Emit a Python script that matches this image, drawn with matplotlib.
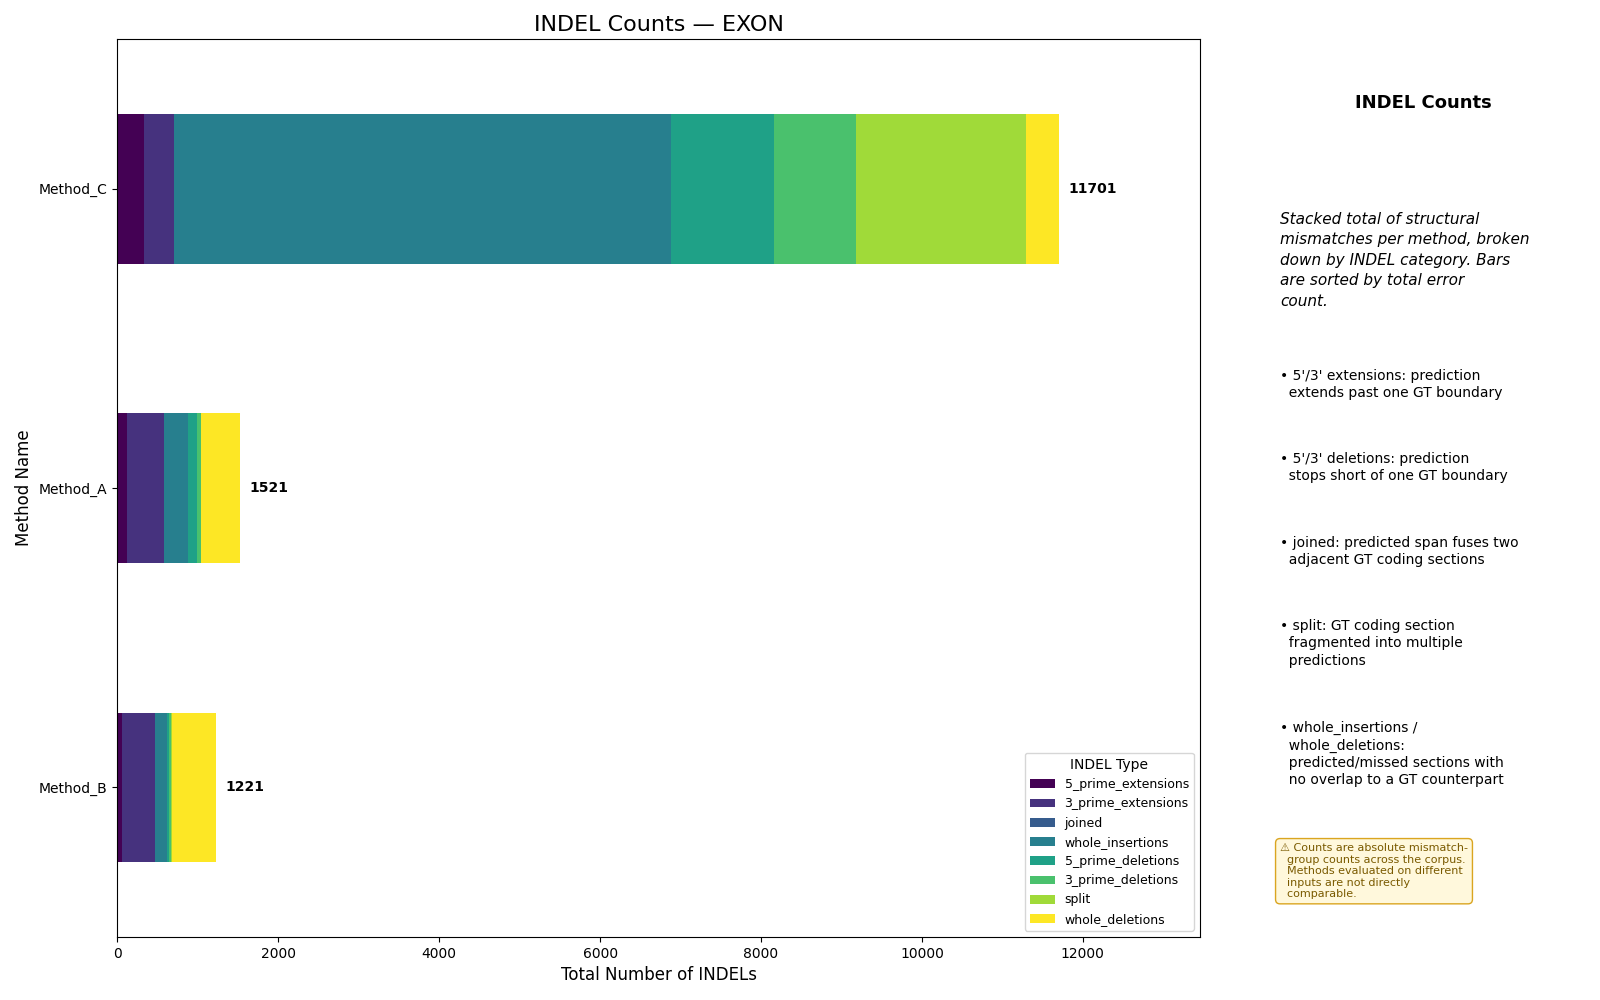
import numpy as np
import matplotlib
matplotlib.use('agg')
import matplotlib.pyplot as plt

# methods bottom -> top (sorted by total)
methods = ['Method_B', 'Method_A', 'Method_C']
categories = ['5_prime_extensions', '3_prime_extensions', 'joined', 'whole_insertions',
              '5_prime_deletions', '3_prime_deletions', 'split', 'whole_deletions']
five_prime_ext = [58, 116, 325]
three_prime_ext = [408, 468, 373]
joined = [0, 0, 0]
whole_ins = [146, 295, 6183]
five_prime_del = [32, 111, 1277]
three_prime_del = [21, 50, 1023]
split = [12, 0, 2108]
whole_del = [544, 481, 412]

series = [five_prime_ext, three_prime_ext, joined, whole_ins,
          five_prime_del, three_prime_del, split, whole_del]
colors = plt.cm.viridis(np.linspace(0, 1, len(categories)))

fig = plt.figure(figsize=(16, 10), dpi=100)
ax = fig.add_axes([0.0734, 0.063, 0.6766, 0.898])

y = np.arange(len(methods))
left = np.zeros(len(methods))
for cat, vals, c in zip(categories, series, colors):
    ax.barh(y, vals, left=left, height=0.5, color=c, label=cat)
    left += np.array(vals)

totals = left
xmax = totals.max() * 1.15
for yi, t in zip(y, totals):
    ax.text(t + totals.max() * 0.01, yi, f'{int(t)}', va='center', ha='left',
            fontsize=10, fontweight='bold')

ax.set_xlim(0, xmax)
ax.set_ylim(-0.5, len(methods) - 0.5)
ax.set_yticks(y)
ax.set_yticklabels(methods)
ax.set_xlabel('Total Number of INDELs', fontsize=12)
ax.set_ylabel('Method Name', fontsize=12)
ax.set_title('INDEL Counts \u2014 EXON', fontsize=16)
ax.legend(title='INDEL Type', loc='lower right', fontsize=9, title_fontsize=10)

# side panel
xs = 0.80
fig.text(0.8897, 0.897, 'INDEL Counts', ha='center', va='center',
         fontsize=13, fontweight='bold')
fig.text(xs, 0.788,
         'Stacked total of structural\nmismatches per method, broken\n'
         'down by INDEL category. Bars\nare sorted by total error\ncount.',
         ha='left', va='top', fontsize=11, style='italic', linespacing=1.45)

bullets = [
    (0.631, "\u2022 5'/3' extensions: prediction\n  extends past one GT boundary"),
    (0.548, "\u2022 5'/3' deletions: prediction\n  stops short of one GT boundary"),
    (0.464, "\u2022 joined: predicted span fuses two\n  adjacent GT coding sections"),
    (0.381, "\u2022 split: GT coding section\n  fragmented into multiple\n  predictions"),
    (0.279, "\u2022 whole_insertions /\n  whole_deletions:\n  predicted/missed sections with\n  no overlap to a GT counterpart"),
]
for yy, txt in bullets:
    fig.text(xs, yy, txt, ha='left', va='top', fontsize=10, linespacing=1.3)

fig.text(xs, 0.157,
         '\u26a0 Counts are absolute mismatch-\n  group counts across the corpus.\n'
         '  Methods evaluated on different\n  inputs are not directly\n  comparable.',
         ha='left', va='top', fontsize=8, color='#7a5a00',
         bbox=dict(boxstyle='round,pad=0.4', facecolor='#fff8dc', edgecolor='#daa520'))

fig.savefig('out.png')
plt.close(fig)
